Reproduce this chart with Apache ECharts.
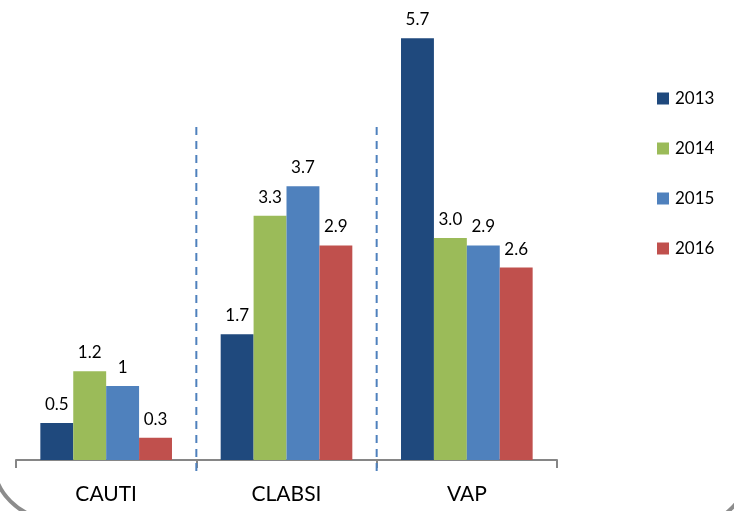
<!DOCTYPE html>
<html><head><meta charset="utf-8">
<script src="https://cdn.jsdelivr.net/npm/echarts@6/dist/echarts.min.js"></script>
<style>html,body{margin:0;padding:0;background:#fff}#c{width:734px;height:511px}</style>
</head><body><div id="c"></div>
<script>
const categories = ['CAUTI', 'CLABSI', 'VAP'];
const years = ['2013', '2014', '2015', '2016'];
const v2013 = [0.5, 1.7, 5.7];
const v2014 = [1.2, 3.3, 3.0];
const v2015 = [1.0, 3.7, 2.9];
const v2016 = [0.3, 2.9, 2.6];
const labels2013 = ['0.5', '1.7', '5.7'];
const labels2014 = ['1.2', '3.3', '3.0'];
const labels2015 = ['1', '3.7', '2.9'];
const labels2016 = ['0.3', '2.9', '2.6'];
const colors = ['#1F497D', '#9BBB59', '#4F81BD', '#C0504D'];
const values = [v2013, v2014, v2015, v2016];
const labelSets = [labels2013, labels2014, labels2015, labels2016];
const font = 'Lato, "Open Sans", sans-serif';

const chart = echarts.init(document.getElementById('c'));
chart.setOption({
  animation: false,
  grid: { left: 16, right: 177, top: 16, bottom: 51 },
  legend: {
    orient: 'vertical', left: 657, top: 90, padding: 0, itemWidth: 12, itemHeight: 12, itemGap: 33,
    icon: 'rect', data: years,
    textStyle: { fontSize: 17, color: '#000', fontFamily: font, padding: [0, 0, 0, 1] }
  },
  xAxis: {
    type: 'category', data: categories,
    axisLine: { lineStyle: { color: '#868686', width: 2 } },
    axisTick: { show: true, length: 8, lineStyle: { color: '#868686', width: 2 } },
    axisLabel: { fontSize: 21, color: '#000', margin: 24, fontFamily: font }
  },
  yAxis: { type: 'value', min: 0, max: 6, show: false, splitLine: { show: false } },
  series: years.map((y, i) => ({
    name: y, type: 'bar', data: values[i], barGap: '0%', barCategoryGap: '27%',
    itemStyle: { color: colors[i] },
    label: {
      show: true, position: 'top', distance: 10, fontSize: 17, color: '#000', fontFamily: font,
      formatter: p => labelSets[i][p.dataIndex]
    }
  }))
});

function addGraphics() {
  const els = [];
  for (let k = 0; k < categories.length - 1; k++) {
    const x1 = chart.convertToPixel({ xAxisIndex: 0 }, categories[k]);
    const x2 = chart.convertToPixel({ xAxisIndex: 0 }, categories[k + 1]);
    const x = (x1 + x2) / 2;
    const yTop = chart.convertToPixel({ yAxisIndex: 0 }, 4.5);
    const yBot = chart.convertToPixel({ yAxisIndex: 0 }, 0) + 12;
    els.push({ type: 'line', shape: { x1: x, y1: yTop, x2: x, y2: yBot },
      style: { stroke: '#4F81BD', lineWidth: 2, lineDash: [8, 6] }, z: 10 });
  }
  els.push({ type: 'arc', shape: { cx: 53, cy: 459, r: 60, startAngle: Math.PI / 2, endAngle: Math.PI },
    style: { fill: null, stroke: '#8c8c8c', lineWidth: 4 }, z: 20, silent: true });
  els.push({ type: 'arc', shape: { cx: 689, cy: 466, r: 60, startAngle: 0, endAngle: Math.PI / 2 },
    style: { fill: null, stroke: '#8c8c8c', lineWidth: 4 }, z: 20, silent: true });
  chart.setOption({ graphic: els });
}
addGraphics();
</script></body></html>
